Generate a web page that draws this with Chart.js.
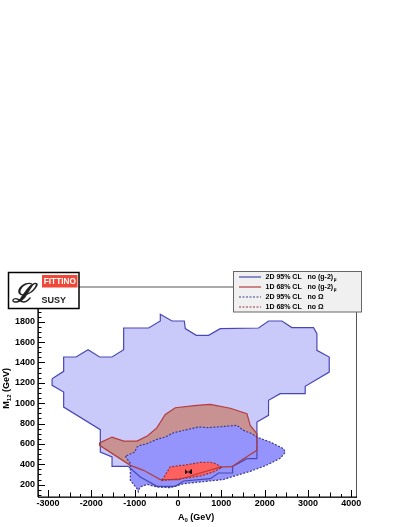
<!DOCTYPE html>
<html><head><meta charset="utf-8">
<script src="https://cdn.jsdelivr.net/npm/chart.js@4/dist/chart.umd.min.js"></script>
<style>html,body{margin:0;padding:0;background:#fff}#wrap{width:407px;height:527px;position:relative}</style>
</head><body><div id="wrap"><canvas id="c" width="407" height="527"></canvas></div>
<script>
// ---- tick labels ----
const xTicks = [-3000, -2000, -1000, 0, 1000, 2000, 3000, 4000];
const yTicks = [200, 400, 600, 800, 1000, 1200, 1400, 1600, 1800];

// ---- 2D 95% CL, no (g-2)_mu : polygon (A0, M12) ----
const g2_2d95_A0  = [-2905,-2638,-2638,-2352,-2075,-1808,-1522,-1254,-1254,-678,-408,-408,-138,145,168,422,706,975,1859,2090,2398,2628,3127,3205,3205,3489,3489,2935,2935,2359,2089,2089,1821,1821,1591,1259,1259,936,745,130,-60,-484,-869,-1150,-1522,-1522,-1792,-1792,-2638,-2638,-2905];
const g2_2d95_M12 = [1241,1313,1454,1454,1526,1454,1454,1526,1739,1739,1808,1874,1808,1808,1733,1667,1667,1733,1739,1808,1808,1743,1743,1684,1520,1454,1306,1166,1094,1094,1028,881,815,455,455,379,314,314,258,235,183,183,275,379,379,471,520,740,962,1110,1176];

// ---- 1D 68% CL, no (g-2)_mu ----
const g2_1d68_A0  = [-1808,-1522,-1254,-945,-700,-484,-293,-62,438,745,1206,1591,1667,1821,1821,1513,1245,975,514,15,-408,-793,-1100,-1808];
const g2_1d68_M12 = [610,667,628,628,680,760,890,955,979,989,950,897,782,700,537,455,376,372,314,248,249,340,389,586];

// ---- 2D 95% CL, no Omega ----
const om_2d95_A0  = [-1215,-1100,-1100,-945,-915,-880,-715,-484,-178,129,653,1052,1275,1667,2036,2359,2474,2435,2128,1821,1706,1513,1360,899,700,475,207,-101,-293,-484,-715,-869,-945,-1000,-1100];
const om_2d95_M12 = [480,406,242,160,130,175,202,176,170,209,232,250,281,330,389,458,517,553,618,667,700,733,782,766,760,766,740,710,667,645,602,586,569,520,500];

// ---- 1D 68% CL, no Omega ----
const om_1d68_A0  = [-369,-300,-178,207,514,745,860,1014,821,514,283,-369];
const om_1d68_M12 = [245,290,375,395,418,420,406,370,324,285,268,240];

// ---- best fit point ----
const bestA0 = [231];
const bestM12 = [324];

const pts = (xs, ys) => xs.map((x, i) => ({x: x, y: ys[i]}));

// bowtie marker
const bow = document.createElement('canvas');
bow.width = 7; bow.height = 5;
(function(){const g = bow.getContext('2d'); g.fillStyle = '#000'; g.beginPath(); g.moveTo(0,0); g.lineTo(7,5); g.lineTo(7,0); g.lineTo(0,5); g.closePath(); g.fill();})();

const C = {
  lbFill: 'rgb(202,202,250)', lbLine: 'rgb(72,72,180)',
  brFill: 'rgb(200,146,146)', brLine: 'rgb(180,60,60)',
  mbFill: 'rgb(148,148,252)', mbLine: 'rgb(60,60,140)',
  rdFill: 'rgb(255,96,96)',   rdLine: 'rgb(150,50,60)'
};

function fillDs(xs, ys, col, order) {
  return {data: pts(xs, ys), backgroundColor: col, borderWidth: 0, borderColor: 'rgba(0,0,0,0)', fill: 'shape', pointRadius: 0, order: order, tension: 0};
}
function lineDs(xs, ys, col, dash, order) {
  return {data: pts(xs.concat([xs[0]]), ys.concat([ys[0]])), borderColor: col, borderWidth: 1.2, borderDash: dash, fill: false, pointRadius: 0, order: order, tension: 0};
}

const overlay = {
  id: 'overlay',
  afterDraw(chart) {
    const ctx = chart.ctx, a = chart.chartArea, xs = chart.scales.x, ys = chart.scales.y;
    ctx.save();
    // frame
    ctx.strokeStyle = '#555'; ctx.lineWidth = 1;
    ctx.strokeRect(a.left + 0.5, a.top + 0.5, a.right - a.left - 1, a.bottom - a.top);
    ctx.strokeStyle = '#000'; ctx.lineWidth = 1.2;
    ctx.beginPath(); ctx.moveTo(a.left, a.bottom); ctx.lineTo(a.right, a.bottom);
    ctx.moveTo(a.left, a.bottom); ctx.lineTo(a.left, a.top); ctx.stroke();
    // x ticks
    ctx.lineWidth = 1;
    ctx.beginPath();
    for (let v = -3250; v <= 4130; v += 250) {
      const p = Math.round(xs.getPixelForValue(v)) + 0.5;
      if (p < a.left + 1 || p > a.right - 1) continue;
      const len = (v % 1000 === 0) ? 7 : ((v % 500 === 0) ? 4.5 : 3);
      ctx.moveTo(p, a.bottom); ctx.lineTo(p, a.bottom - len);
    }
    // y ticks
    for (let v = 100; v <= 2100; v += 50) {
      const p = Math.round(ys.getPixelForValue(v)) + 0.5;
      if (p < a.top + 1 || p > a.bottom - 1) continue;
      const len = (v % 200 === 0) ? 7 : 3.5;
      ctx.moveTo(a.left, p); ctx.lineTo(a.left + len, p);
    }
    ctx.stroke();

    // axis titles
    ctx.fillStyle = '#000';
    ctx.textBaseline = 'alphabetic';
    const big = 'bold 9px "Liberation Sans", Arial, sans-serif';
    const small = 'bold 6px "Liberation Sans", Arial, sans-serif';
    // x title: A_0 (GeV)
    let x0 = 178, yb = 520;
    ctx.font = big; ctx.textAlign = 'left';
    ctx.fillText('A', x0, yb); x0 += ctx.measureText('A').width;
    ctx.font = small; ctx.fillText('0', x0, yb + 2); x0 += ctx.measureText('0').width;
    ctx.font = big; ctx.fillText(' (GeV)', x0, yb);
    // y title: M_12 (GeV), rotated
    ctx.save();
    ctx.font = big; const wM = ctx.measureText('M').width, wR = ctx.measureText(' (GeV)').width;
    ctx.font = small; const wS = ctx.measureText('12').width;
    const total = wM + wS + wR;
    ctx.translate(9, 368 + total);
    ctx.rotate(-Math.PI / 2);
    let t = 0;
    ctx.font = big; ctx.fillText('M', t, 0); t += wM;
    ctx.font = small; ctx.fillText('12', t, 2); t += wS;
    ctx.font = big; ctx.fillText(' (GeV)', t, 0);
    ctx.restore();

    // legend
    const L = {x: 233.5, y: 271.5, w: 128, h: 40.5};
    ctx.fillStyle = '#f0f0f0'; ctx.fillRect(L.x, L.y, L.w, L.h);
    ctx.strokeStyle = '#666'; ctx.lineWidth = 1; ctx.strokeRect(L.x, L.y, L.w, L.h);
    const rows = [
      {col: C.lbLine, dash: [], a: '2D 95% CL', b: 'no (g-2)', sub: 'μ'},
      {col: C.brLine, dash: [], a: '1D 68% CL', b: 'no (g-2)', sub: 'μ'},
      {col: C.mbLine, dash: [2, 1.5], a: '2D 95% CL', b: 'no Ω', sub: ''},
      {col: C.rdLine, dash: [2, 1.5], a: '1D 68% CL', b: 'no Ω', sub: ''}
    ];
    rows.forEach((r, i) => {
      const yy = 277 + i * 10;
      ctx.strokeStyle = r.col; ctx.lineWidth = 1.2; ctx.setLineDash(r.dash);
      ctx.beginPath(); ctx.moveTo(239, yy); ctx.lineTo(261, yy); ctx.stroke();
      ctx.setLineDash([]);
      ctx.fillStyle = '#000'; ctx.font = 'bold 7px "Liberation Sans", Arial, sans-serif';
      ctx.textBaseline = 'middle'; ctx.textAlign = 'left';
      ctx.fillText(r.a, 265.5, yy);
      ctx.fillText(r.b, 307.5, yy);
      if (r.sub) {
        const w = ctx.measureText(r.b).width;
        ctx.font = 'bold 4.5px "Liberation Sans", Arial, sans-serif';
        ctx.fillText(r.sub, 307.5 + w + 0.5, yy + 3);
      }
    });

    // logo
    ctx.fillStyle = '#fff'; ctx.fillRect(8.5, 272.5, 70.5, 36);
    ctx.strokeStyle = '#000'; ctx.lineWidth = 1.5; ctx.strokeRect(8.5, 272.5, 70.5, 36);
    ctx.fillStyle = 'rgb(240,72,56)'; ctx.fillRect(42, 275, 35.5, 12.5);
    ctx.fillStyle = '#fff'; ctx.font = 'bold 9px "Liberation Sans Narrow", "Liberation Sans", Arial, sans-serif';
    ctx.textAlign = 'center'; ctx.textBaseline = 'middle';
    {
      const w = ctx.measureText('FITTINO').width, target = 32;
      ctx.save(); ctx.translate(59.8, 281.5);
      if (w > target) ctx.scale(target / w, 1);
      ctx.fillText('FITTINO', 0, 0); ctx.restore();
    }
    ctx.fillStyle = '#222'; ctx.font = 'bold 9px "Liberation Sans", Arial, sans-serif';
    ctx.textAlign = 'left'; ctx.fillText('SUSY', 41.5, 300.5);
    ctx.font = 'italic bold 26px "DejaVu Serif", serif';
    ctx.textBaseline = 'alphabetic';
    ctx.fillText('ℒ', 12, 302);
    ctx.restore();
  }
};

new Chart(document.getElementById('c'), {
  type: 'line',
  data: {
    datasets: [
      {data: pts(bestA0, bestM12), showLine: false, pointStyle: bow, pointRadius: 3, order: 0},
      lineDs(om_1d68_A0, om_1d68_M12, C.rdLine, [2, 1.5], 1),
      lineDs(om_2d95_A0, om_2d95_M12, C.mbLine, [2, 1.5], 2),
      lineDs(g2_1d68_A0, g2_1d68_M12, C.brLine, [], 3),
      lineDs(g2_2d95_A0, g2_2d95_M12, C.lbLine, [], 4),
      fillDs(om_1d68_A0, om_1d68_M12, C.rdFill, 10),
      fillDs(om_2d95_A0, om_2d95_M12, C.mbFill, 11),
      fillDs(g2_1d68_A0, g2_1d68_M12, C.brFill, 12),
      fillDs(g2_2d95_A0, g2_2d95_M12, C.lbFill, 13)
    ]
  },
  options: {
    responsive: false, animation: false, devicePixelRatio: 1,
    layout: {padding: {top: 286.5, right: 50, left: 0, bottom: 0}},
    plugins: {legend: {display: false}, tooltip: {enabled: false}},
    elements: {line: {tension: 0}},
    scales: {
      x: {
        type: 'linear', min: -3230, max: 4130,
        grid: {display: false, drawTicks: false}, border: {display: false},
        afterBuildTicks: s => { s.ticks = xTicks.map(v => ({value: v})); },
        afterFit: s => { s.height = 30; },
        ticks: {padding: 1, color: '#000', maxRotation: 0, autoSkip: false,
          font: {family: '"Liberation Sans", Arial, sans-serif', size: 9, weight: 'bold'},
          callback: v => String(v)}
      },
      y: {
        type: 'linear', min: 78, max: 2147,
        grid: {display: false, drawTicks: false}, border: {display: false},
        afterBuildTicks: s => { s.ticks = yTicks.map(v => ({value: v})); },
        afterFit: s => { s.width = 38; },
        ticks: {padding: 3, color: '#000', autoSkip: false,
          font: {family: '"Liberation Sans", Arial, sans-serif', size: 9, weight: 'bold'},
          callback: v => String(v)}
      }
    }
  },
  plugins: [overlay]
});
</script>
</body></html>
